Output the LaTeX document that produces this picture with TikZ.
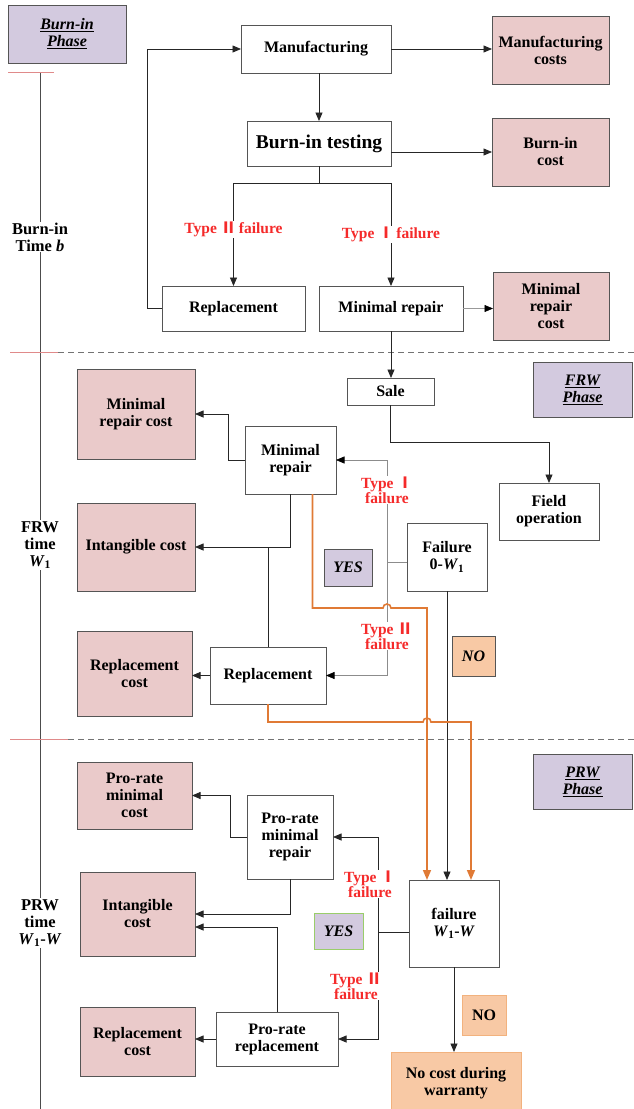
\documentclass[tikz,border=0pt]{standalone}
\usepackage{fontspec}
\setmainfont{Liberation Serif}
\newfontfamily\cjk{Noto Sans CJK SC}
\usetikzlibrary{arrows.meta,calc}
\definecolor{costpink}{HTML}{EACACA}
\definecolor{lav}{HTML}{D3CADF}
\definecolor{nobox}{HTML}{F8C9A5}
\definecolor{orl}{HTML}{E07A35}
\definecolor{redtxt}{HTML}{F52A2A}
\definecolor{bord}{HTML}{555555}
\definecolor{tick}{HTML}{E08A8A}
\definecolor{greenb}{HTML}{9ACD6A}
\definecolor{orb}{HTML}{F2B27E}
\newcommand{\romI}{{\cjk Ⅰ}}
\newcommand{\romII}{{\cjk Ⅱ}}
\tikzset{
  box/.style={draw=bord, line width=0.8pt, fill=white, inner sep=0pt, outer sep=0pt, align=center,
    font=\bfseries\fontsize{16}{17}\selectfont},
  cost/.style={box, fill=costpink},
  phasebox/.style={box, fill=lav, font=\bfseries\itshape\fontsize{16}{17}\selectfont},
  nob/.style={box, fill=nobox},
  lbl/.style={text=redtxt, fill=white, inner sep=1pt, align=center, font=\bfseries\fontsize{15.5}{15}\selectfont},
  tl/.style={fill=white, inner sep=1pt, align=center, font=\bfseries\fontsize{16.5}{17}\selectfont},
  arr/.style={-{Triangle[length=8.5pt,width=7pt]}, line width=0.8pt, draw=black!85},
  garr/.style={-{Triangle[length=8.5pt,width=7pt,color=black]}, line width=0.6pt, draw=black!45},
  oarr/.style={-{Triangle[length=10pt,width=8pt]}, line width=1.6pt, draw=orl},
  ln/.style={line width=0.8pt, draw=black!85},
}
\begin{document}
\begin{tikzpicture}[x=1pt,y=1pt]
\useasboundingbox (0,0) rectangle (634,-1109);
% timeline and phase separators
\draw[line width=0.8pt, black!70] (40,-72) -- (40,-1109);
\draw[line width=0.8pt, tick] (8,-72) -- (54,-72);
\draw[line width=0.8pt, tick] (10,-352) -- (58,-352);
\draw[line width=0.8pt, black!55, dash pattern=on 6pt off 4pt] (58,-352) -- (634,-352);
\draw[line width=0.8pt, tick] (10,-739) -- (68,-739);
\draw[line width=0.8pt, black!55, dash pattern=on 6pt off 4pt] (68,-739) -- (634,-739);
\node[tl] (tlb) at (40,-237) {Burn-in\\Time \textit{b}};
\node[tl] (tlf) at (40,-545) {FRW\\time\\\textit{W}\textsubscript{1}};
\node[tl] (tlp) at (40,-923) {PRW\\time\\\textit{W}\textsubscript{1}-\textit{W}};

% phase boxes
\node[phasebox, minimum width=118, minimum height=58] (burnphase) at (67,-34) {\underline{Burn-in}\\\underline{Phase}};
\node[phasebox, minimum width=99, minimum height=55] (frwphase) at (582.5,-389.5) {\underline{FRW}\\\underline{Phase}};
\node[phasebox, minimum width=99, minimum height=55] (prwphase) at (582.5,-781.5) {\underline{PRW}\\\underline{Phase}};

% burn-in phase
\node[box, minimum width=150, minimum height=48] (manuf) at (316,-49) {Manufacturing};
\node[cost, minimum width=117, minimum height=68] (manufcost) at (550.5,-50) {Manufacturing\\costs};
\node[box, minimum width=144, minimum height=45, font=\bfseries\fontsize{19.5}{20}\selectfont] (burntest) at (319,-143.5) {Burn-in testing};
\node[cost, minimum width=117, minimum height=68] (burncost) at (550.5,-152) {Burn-in\\cost};
\node[box, minimum width=143, minimum height=45] (repl1) at (233.5,-308.5) {Replacement};
\node[box, minimum width=144, minimum height=45] (minrep1) at (391,-308.5) {Minimal repair};
\node[cost, minimum width=116, minimum height=68] (minrepcost1) at (551,-306) {Minimal\\repair\\cost};

\draw[arr] (manuf.east) -- (manufcost.west |- manuf.east);
\draw[arr] (burntest.north |- manuf.south) -- (burntest.north);
\draw[arr] (burntest.east |- burncost.west) -- (burncost.west);
\coordinate (br) at ($(burntest.south)+(0,-17)$);
\draw[ln] (burntest.south) -- (br);
\draw[ln] (repl1.north |- br) -- (minrep1.north |- br);
\draw[arr] (repl1.north |- br) -- (repl1.north) node[lbl, pos=0.45] (t2a) {Type \romII\,failure};
\draw[arr] (minrep1.north |- br) -- (minrep1.north) node[lbl, pos=0.5] (t1a) {Type \romI\,failure};
\draw[arr] (repl1.west) -- ++(-15,0) |- (manuf.west);
\draw[garr, draw=black!40] (minrep1.east) -- (minrepcost1.west |- minrep1.east);

% FRW phase
\node[box, minimum width=87, minimum height=27] (sale) at (390.5,-391.5) {Sale};
\node[box, minimum width=100, minimum height=57] (field) at (549,-511.5) {Field\\operation};
\node[box, minimum width=91, minimum height=68] (minrep2) at (290.5,-460) {Minimal\\repair};
\node[cost, minimum width=118, minimum height=90] (minrepcost2) at (136,-414) {Minimal\\repair cost};
\node[cost, minimum width=118, minimum height=88] (intang2) at (136,-547) {Intangible cost};
\node[cost, minimum width=115, minimum height=85] (replcost2) at (134.5,-673.5) {Replacement\\cost};
\node[box, minimum width=116, minimum height=57] (repl2) at (268,-675.5) {Replacement};
\node[box, minimum width=80, minimum height=68] (fail1) at (447,-557) {Failure\\0-\textit{W}\textsubscript{1}};
\node[box, fill=lav, minimum width=48, minimum height=37] (yes1) at (348,-567.5) {\textit{YES}};
\node[nob, minimum width=43, minimum height=40] (no1) at (473.5,-656) {\textit{NO}};

\draw[arr] (minrep1.south) -- (minrep1.south |- sale.north);
\draw[arr] (sale.south) -- ++(0,-37) -| (field.north);
\draw[arr] (minrep2.west) -- ++(-17,0) |- (minrepcost2.east);
\draw[arr] (minrep2.south) |- (intang2.east);
\draw[ln] (repl2.north) -- (repl2.north |- intang2.east);
\draw[arr] (repl2.west) -- (replcost2.east |- repl2.west);
\coordinate (j1) at (387,-562);
\draw[line width=0.6pt, black!45] (fail1.west |- j1) -- (j1);
\draw[garr] (j1) |- (minrep2.east);
\draw[garr] (j1) |- (repl2.east);
\node[lbl] (t1b) at (387,-490) {Type \romI\\failure};
\node[lbl] (t2b) at (387,-636) {Type \romII\\failure};

% PRW phase
\node[cost, minimum width=115, minimum height=67] (prmincost) at (134.5,-795.5) {Pro-rate\\minimal\\cost};
\node[box, minimum width=86, minimum height=84] (prminrep) at (290,-837) {Pro-rate\\minimal\\repair};
\node[cost, minimum width=115, minimum height=84] (intang3) at (137.5,-914) {Intangible\\cost};
\node[cost, minimum width=115, minimum height=69] (replcost3) at (137.5,-1041.5) {Replacement\\cost};
\node[box, minimum width=122, minimum height=54] (prrepl) at (277,-1039) {Pro-rate\\replacement};
\node[box, minimum width=90, minimum height=87] (fail2) at (454,-923.5) {failure\\\textit{W}\textsubscript{1}-\textit{W}};
\node[box, fill=lav, draw=greenb, minimum width=49, minimum height=36] (yes2) at (338.5,-931) {\textit{YES}};
\node[nob, draw=orb, minimum width=44, minimum height=40] (no2) at (484,-1015) {NO};
\node[nob, draw=orb, minimum width=130, minimum height=63] (nocost) at (456,-1083.5) {No cost during\\warranty};

\draw[arr] (fail1.south) -- (fail1.south |- fail2.north);
\draw[arr] (prminrep.west) -- ++(-17,0) |- (prmincost.east);
\draw[arr] (prminrep.south) |- (intang3.east);
\draw[arr] (prrepl.north) |- ([yshift=-13pt]intang3.east);
\draw[arr] (prrepl.west) -- (replcost3.east |- prrepl.west);
\coordinate (j2) at (378,-932);
\draw[ln] (fail2.west |- j2) -- (j2);
\draw[arr] (j2) |- (prminrep.east);
\draw[arr] (j2) |- (prrepl.east);
\node[lbl] (t1c) at (370,-884) {Type \romI\\failure};
\node[lbl] (t2c) at (356,-986) {Type \romII\\failure};
\draw[arr] (fail2.south) -- (fail2.south |- nocost.north);

% orange warranty transfers
\coordinate (o1) at ([xshift=-27pt]fail2.north);
\coordinate (o2) at ([xshift=17pt]fail2.north);
\coordinate (h1) at (0,-608);
\coordinate (h2) at (0,-722);
\draw[oarr] ([xshift=22pt]minrep2.south) |- (383,-608) arc[start angle=180,end angle=0,radius=4] -- (o1 |- h1) -- (o1);
\draw[oarr] (repl2.south) |- ($(o1 |- h2)+(-4,0)$) arc[start angle=180,end angle=0,radius=4] -- (o2 |- h2) -- (o2);
\end{tikzpicture}
\end{document}
